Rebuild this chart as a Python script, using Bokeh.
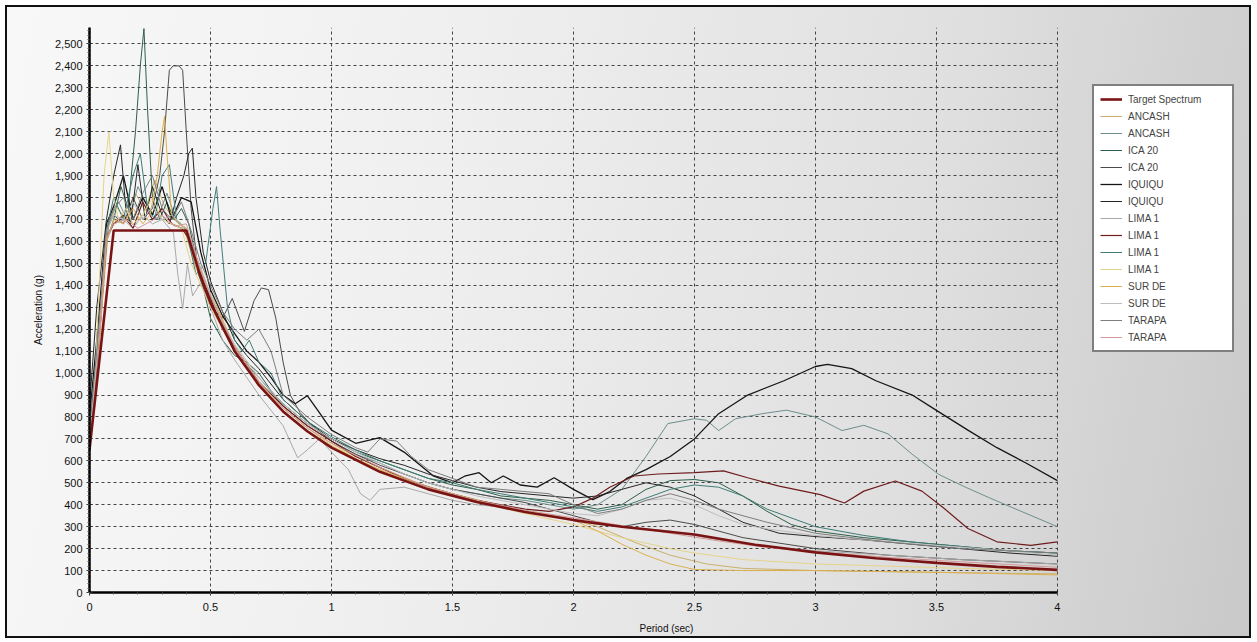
from bokeh.plotting import figure
from bokeh.models import (Range1d, NumeralTickFormatter, Legend, LegendItem,
                          SingleIntervalTicker)
from bokeh.embed import file_html
from bokeh.resources import INLINE

# ---------------- data ----------------
series_names = ["ANCASH", "ANCASH", "ICA 20", "ICA 20", "IQUIQU", "IQUIQU",
                "LIMA 1", "LIMA 1", "LIMA 1", "LIMA 1", "SUR DE", "SUR DE",
                "TARAPA", "TARAPA"]

T_target = [0, 0.1, 0.4, 0.45, 0.5, 0.6, 0.7, 0.8, 0.9, 1.0, 1.2, 1.4, 1.6, 1.8, 2.0,
            2.2, 2.5, 2.75, 3.0, 3.25, 3.5, 3.75, 4.0]
A_target = [650, 1650, 1650, 1470, 1320, 1100, 945, 825, 735, 660, 550, 470, 412, 367, 330,
            300, 264, 218, 183, 156, 135, 117, 103]

T_ancash_a = [0, 0.04, 0.08, 0.11, 0.15, 0.19, 0.23, 0.27, 0.31, 0.35, 0.39, 0.44, 0.5, 0.56,
              0.62, 0.7, 0.8, 0.9, 1.0, 1.1, 1.2, 1.35, 1.5, 1.65, 1.8, 1.95, 2.1, 2.25, 2.4,
              2.55, 2.7, 3.0, 3.3, 3.6, 4.0]
A_ancash_a = [720, 1150, 1680, 1760, 1700, 1820, 1740, 1880, 1760, 1700, 1660, 1480, 1330, 1200,
              1070, 960, 840, 750, 680, 620, 570, 500, 450, 410, 370, 345, 300, 230, 170,
              130, 110, 100, 95, 90, 85]

T_ancash_b = [0, 0.04, 0.08, 0.12, 0.16, 0.2, 0.24, 0.28, 0.32, 0.36, 0.4, 0.45, 0.5, 0.55, 0.6,
              0.65, 0.7, 0.8, 0.9, 1.0, 1.1, 1.2, 1.3, 1.4, 1.5, 1.6, 1.7, 1.8, 1.9, 2.0, 2.1,
              2.2, 2.3, 2.39, 2.5, 2.55, 2.6, 2.67, 2.78, 2.88, 3.0, 3.11, 3.2, 3.3, 3.4, 3.51,
              3.62, 3.72, 3.85, 4.0]
A_ancash_b = [680, 1200, 1700, 1780, 1690, 1850, 1760, 1700, 1820, 1690, 1660, 1500, 1350, 1230,
              1120, 1040, 980, 850, 760, 690, 630, 590, 540, 500, 470, 450, 430, 420, 400, 380,
              400, 470, 620, 770, 792, 785, 738, 792, 815, 831, 800, 738, 762, 723, 630, 538,
              480, 431, 370, 300]

T_ica_a = [0, 0.03, 0.07, 0.1, 0.13, 0.16, 0.19, 0.21, 0.225, 0.24, 0.26, 0.29, 0.32, 0.35,
           0.38, 0.41, 0.45, 0.5, 0.55, 0.6, 0.65, 0.7, 0.75, 0.8, 0.9, 1.0, 1.1, 1.2, 1.3, 1.4,
           1.5, 1.6, 1.7, 1.8, 1.9, 2.0, 2.1, 2.2, 2.3, 2.4, 2.5, 2.6, 2.7, 2.8, 2.9, 3.0, 3.2,
           3.4, 3.6, 3.8, 4.0]
A_ica_a = [700, 1000, 1600, 1700, 1850, 1750, 2100, 2400, 2570, 2200, 1800, 1700, 1780, 1700,
           1750, 1680, 1480, 1250, 1150, 1080, 1050, 1000, 920, 860, 770, 700, 640, 600, 560, 520,
           490, 470, 440, 430, 420, 400, 380, 400, 470, 510, 515, 500, 440, 370, 310, 280, 250,
           230, 210, 190, 180]

T_ica_b = [0, 0.03, 0.07, 0.1, 0.14, 0.18, 0.22, 0.26, 0.29, 0.31, 0.33, 0.345, 0.37, 0.385,
           0.4, 0.42, 0.45, 0.5, 0.55, 0.59, 0.64, 0.68, 0.71, 0.74, 0.77, 0.8, 0.83, 0.87, 0.92,
           1.0, 1.1, 1.2, 1.3, 1.4, 1.5, 1.6, 1.7, 1.8, 1.9, 2.0, 2.1, 2.2, 2.3, 2.4, 2.5, 2.7,
           3.0, 3.3, 3.6, 4.0]
A_ica_b = [750, 1100, 1650, 1720, 1680, 1800, 1700, 1750, 1900, 2100, 2380, 2400, 2400, 2380,
           2100, 1750, 1450, 1300, 1250, 1340, 1190, 1330, 1388, 1380, 1250, 1050, 900, 820, 760,
           690, 630, 580, 540, 500, 470, 450, 430, 410, 380, 350, 320, 300, 320, 330, 310, 250,
           200, 170, 150, 130]

T_iquiqu_a = [0, 0.03, 0.07, 0.1, 0.14, 0.18, 0.22, 0.26, 0.3, 0.34, 0.38, 0.42, 0.46, 0.5,
              0.55, 0.6, 0.65, 0.7, 0.75, 0.8, 0.85, 0.9, 0.95, 1.0, 1.1, 1.2, 1.3, 1.42, 1.5,
              1.55, 1.61, 1.66, 1.71, 1.78, 1.85, 1.92, 2.0, 2.08, 2.15, 2.22, 2.3, 2.4, 2.5,
              2.6, 2.72, 2.87, 3.0, 3.05, 3.15, 3.25, 3.4, 3.5, 3.63, 3.75, 3.87, 4.0]
A_iquiqu_a = [800, 1150, 1680, 1760, 1900, 1700, 1800, 1720, 1850, 1700, 1800, 1780, 1550, 1380,
              1260, 1180, 1100, 1050, 980, 900, 860, 897, 820, 740, 680, 706, 640, 532, 500,
              530, 546, 500, 531, 490, 480, 523, 470, 423, 460, 520, 560, 620, 700,
              815, 900, 965, 1030, 1040, 1020, 965, 900, 830, 740, 660, 590, 510]

T_iquiqu_b = [0, 0.03, 0.07, 0.1, 0.128, 0.15, 0.17, 0.2, 0.23, 0.26, 0.3, 0.33, 0.36, 0.39,
              0.41, 0.425, 0.44, 0.47, 0.5, 0.55, 0.6, 0.65, 0.7, 0.8, 0.9, 1.0, 1.1, 1.2, 1.3,
              1.4, 1.5, 1.6, 1.7, 1.8, 1.9, 2.0, 2.1, 2.2, 2.3, 2.4, 2.5, 2.6, 2.7, 2.85, 3.0,
              3.2, 3.4, 3.6, 3.8, 4.0]
A_iquiqu_b = [850, 1300, 1700, 1900, 2040, 1750, 1680, 1950, 1700, 1850, 1720, 1680, 1800, 1900,
              2000, 2025, 1800, 1550, 1420, 1280, 1150, 1080, 1020, 880, 780, 700, 650, 610, 580,
              540, 510, 480, 460, 450, 440, 430, 440, 470, 500, 480, 440, 380, 320, 270, 255,
              240, 220, 200, 180, 165]

T_lima_a = [0, 0.03, 0.07, 0.1, 0.14, 0.18, 0.22, 0.26, 0.3, 0.347, 0.365, 0.385, 0.405, 0.426,
            0.459, 0.5, 0.55, 0.6, 0.65, 0.7, 0.75, 0.8, 0.86, 0.9, 0.95, 1.0, 1.07, 1.12, 1.16,
            1.2, 1.3, 1.4, 1.5, 1.6, 1.7, 1.8, 1.9, 2.0, 2.1, 2.2, 2.3, 2.4, 2.5, 2.6, 2.8, 3.0,
            3.3, 3.6, 4.0]
A_lima_a = [680, 1050, 1600, 1680, 1700, 1660, 1720, 1680, 1700, 1639, 1450, 1293, 1497, 1352,
            1411, 1300, 1150, 1060, 980, 900, 830, 760, 614, 650, 700, 640, 560, 450, 420,
            470, 480, 450, 420, 400, 390, 370, 350, 330, 310, 300, 290, 280, 260, 240, 210, 190,
            170, 150, 130]

T_lima_b = [0, 0.03, 0.07, 0.1, 0.14, 0.18, 0.22, 0.26, 0.3, 0.34, 0.38, 0.42, 0.46, 0.5, 0.55,
            0.6, 0.7, 0.8, 0.9, 1.0, 1.1, 1.2, 1.3, 1.4, 1.5, 1.6, 1.7, 1.8, 1.9, 2.0, 2.08, 2.15,
            2.25, 2.35, 2.5, 2.62, 2.72, 2.85, 3.02, 3.12, 3.2, 3.33, 3.44, 3.53, 3.63, 3.75,
            3.89, 4.0]
A_lima_b = [660, 1000, 1620, 1680, 1720, 1660, 1780, 1700, 1750, 1680, 1660, 1600, 1450, 1340,
            1200, 1120, 960, 850, 760, 690, 620, 570, 520, 480, 450, 420, 400, 380, 370, 390,
            430, 480, 531, 540, 546, 554, 523, 485, 446, 408, 462, 508, 462, 385, 292, 231,
            215, 231]

T_lima_c = [0, 0.03, 0.07, 0.1, 0.14, 0.18, 0.21, 0.24, 0.27, 0.3, 0.33, 0.36, 0.4, 0.44, 0.48,
            0.51, 0.525, 0.54, 0.57, 0.6, 0.63, 0.66, 0.7, 0.75, 0.8, 0.9, 1.0, 1.1, 1.2, 1.3,
            1.4, 1.5, 1.6, 1.7, 1.8, 1.9, 2.0, 2.1, 2.2, 2.3, 2.4, 2.5, 2.6, 2.7, 2.8, 3.0, 3.2,
            3.4, 3.6, 3.8, 4.0]
A_lima_c = [700, 1050, 1650, 1800, 1700, 1900, 2000, 1750, 1700, 1900, 1950, 1700, 1650, 1450,
            1500, 1750, 1850, 1650, 1300, 1150, 1100, 1150, 1050, 1000, 880, 780, 710, 650, 600,
            560, 520, 500, 470, 450, 430, 410, 390, 370, 390, 430, 470, 490, 480, 440, 380, 300,
            260, 230, 210, 190, 180]

T_lima_d = [0, 0.02, 0.04, 0.06, 0.08, 0.1, 0.12, 0.15, 0.18, 0.22, 0.26, 0.3, 0.34, 0.38, 0.42,
            0.46, 0.5, 0.55, 0.6, 0.7, 0.8, 0.9, 1.0, 1.1, 1.2, 1.35, 1.5, 1.65, 1.8, 2.0, 2.2,
            2.4, 2.5, 2.7, 3.0, 3.3, 3.6, 4.0]
A_lima_d = [720, 900, 1400, 1900, 2100, 1800, 1700, 1750, 1680, 1720, 1800, 1700, 1680, 1660,
            1500, 1400, 1300, 1200, 1100, 950, 840, 750, 680, 610, 560, 490, 440, 400, 360, 310,
            250, 200, 180, 150, 130, 120, 110, 100]

T_surde_a = [0, 0.03, 0.07, 0.1, 0.14, 0.18, 0.22, 0.25, 0.28, 0.3, 0.31, 0.32, 0.34, 0.37, 0.4,
             0.44, 0.48, 0.52, 0.56, 0.6, 0.7, 0.8, 0.9, 1.0, 1.1, 1.2, 1.3, 1.4, 1.5, 1.6, 1.7,
             1.8, 1.9, 2.0, 2.1, 2.2, 2.3, 2.4, 2.5, 2.7, 3.0, 3.3, 3.6, 4.0]
A_surde_a = [640, 950, 1600, 1700, 1680, 1750, 1680, 1720, 1900, 2100, 2170, 2000, 1720, 1680,
             1660, 1520, 1400, 1320, 1220, 1120, 960, 840, 750, 670, 610, 560, 520, 480, 450,
             420, 390, 370, 350, 330, 280, 220, 170, 130, 105, 100, 100, 95, 90, 80]

T_surde_b = [0, 0.03, 0.07, 0.1, 0.14, 0.18, 0.22, 0.26, 0.3, 0.34, 0.38, 0.42, 0.46, 0.5, 0.55,
             0.6, 0.7, 0.8, 0.9, 1.0, 1.1, 1.2, 1.3, 1.4, 1.5, 1.6, 1.7, 1.8, 1.9, 2.0, 2.1, 2.2,
             2.3, 2.4, 2.5, 2.6, 2.7, 2.8, 3.0, 3.2, 3.5, 3.8, 4.0]
A_surde_b = [690, 1050, 1650, 1720, 1700, 1780, 1700, 1760, 1700, 1720, 1680, 1600, 1480, 1360,
             1230, 1130, 980, 860, 770, 700, 640, 590, 540, 500, 470, 440, 420, 400, 380, 360,
             350, 380, 420, 430, 400, 350, 310, 290, 260, 240, 215, 190, 170]

T_tarapa_a = [0, 0.03, 0.07, 0.1, 0.14, 0.18, 0.22, 0.26, 0.3, 0.34, 0.38, 0.42, 0.46, 0.5, 0.55,
              0.6, 0.65, 0.7, 0.75, 0.8, 0.85, 0.9, 1.0, 1.1, 1.15, 1.2, 1.27, 1.33, 1.4, 1.5,
              1.6, 1.7, 1.8, 1.9, 2.0, 2.1, 2.2, 2.3, 2.4, 2.5, 2.6, 2.8, 3.0, 3.3, 3.6, 4.0]
A_tarapa_a = [760, 1100, 1650, 1750, 1800, 1700, 1820, 1900, 1750, 1700, 1780, 1650, 1500, 1400,
              1280, 1200, 1150, 1200, 1100, 900, 850, 800, 720, 660, 640, 700, 690, 620, 560,
              520, 480, 470, 460, 450, 400, 360, 380, 420, 450, 420, 380, 320, 270, 230, 200, 180]

T_tarapa_b = [0, 0.03, 0.07, 0.1, 0.15, 0.2, 0.25, 0.3, 0.35, 0.4, 0.45, 0.5, 0.6, 0.7, 0.8, 0.9,
              1.0, 1.2, 1.4, 1.6, 1.8, 2.0, 2.2, 2.4, 2.6, 2.8, 3.0, 3.3, 3.6, 4.0]
A_tarapa_b = [660, 980, 1620, 1680, 1700, 1660, 1690, 1720, 1670, 1680, 1500, 1350, 1120, 960,
              840, 750, 680, 570, 480, 420, 375, 340, 305, 270, 235, 205, 185, 160, 140, 115]

series_T = [T_ancash_a, T_ancash_b, T_ica_a, T_ica_b, T_iquiqu_a, T_iquiqu_b, T_lima_a,
            T_lima_b, T_lima_c, T_lima_d, T_surde_a, T_surde_b, T_tarapa_a, T_tarapa_b]
series_A = [A_ancash_a, A_ancash_b, A_ica_a, A_ica_b, A_iquiqu_a, A_iquiqu_b, A_lima_a,
            A_lima_b, A_lima_c, A_lima_d, A_surde_a, A_surde_b, A_tarapa_a, A_tarapa_b]

# ---------------- styles ----------------
series_colors = ["#c9b06a", "#6c8f8c", "#2f5f48", "#4a4a4a", "#151515", "#262626", "#a8a8a8",
                 "#6e1c1c", "#3f7d76", "#e6d38a", "#dcb050", "#bdbdbd", "#7d7d7d", "#d49a9a"]
series_widths = [1, 1, 1, 1, 1.3, 1, 1, 1.2, 1, 1, 1, 1, 1, 1]
FONT = "Liberation Sans"

X_MAX = 4.0
Y_MAX = 2575

# the frame spans the legend area too; axis and grid are bounded to 0..4
p = figure(width=1246, height=633, output_backend="svg", toolbar_location=None,
           x_range=Range1d(0, 4.769), y_range=Range1d(0, Y_MAX),
           min_border_left=82, min_border_right=10, min_border_top=20, min_border_bottom=48,
           x_axis_label="Period (sec)", y_axis_label="Acceleration (g)")

p.background_fill_color = None
p.border_fill_color = None
p.outline_line_color = None
p.styles = {"background": "linear-gradient(100deg, #f8f8f8 0%, #efefef 35%, #e0e0e0 70%, #c9c9c9 100%)",
            "border": "2px solid #111", "margin-left": "5px", "margin-top": "5px"}

items = []
for name, T, A, c, w in zip(series_names, series_T, series_A, series_colors, series_widths):
    r = p.line(T, A, line_color=c, line_width=w)
    items.append(LegendItem(label=name, renderers=[r]))

r_t = p.line(T_target, A_target, line_color="#7a1414", line_width=2.6)
items.insert(0, LegendItem(label="Target Spectrum", renderers=[r_t]))

# axes
p.xaxis.ticker = SingleIntervalTicker(interval=0.5, num_minor_ticks=5)
p.yaxis.ticker = SingleIntervalTicker(interval=100, num_minor_ticks=5)
p.xaxis.formatter = NumeralTickFormatter(format="0.[0]")
p.yaxis.formatter = NumeralTickFormatter(format="0,0")
p.xaxis.bounds = (0, X_MAX)
for ax in (p.xaxis[0], p.yaxis[0]):
    ax.axis_line_width = 2.5
    ax.axis_line_color = "#000000"
    ax.major_tick_in = 3
    ax.major_tick_out = 3
    ax.minor_tick_in = 0
    ax.minor_tick_out = 2
    ax.major_tick_line_color = "#222222"
    ax.minor_tick_line_color = "#555555"
    ax.major_label_text_font = FONT
    ax.major_label_text_font_size = "11px"
    ax.major_label_text_color = "#111111"
    ax.axis_label_text_font = FONT
    ax.axis_label_text_font_size = "10px"
    ax.axis_label_text_font_style = "normal"
    ax.axis_label_text_color = "#111111"
p.xaxis.major_label_standoff = 7
p.yaxis.major_label_standoff = 4
p.xaxis.axis_label_standoff = 9
p.yaxis.axis_label_standoff = 8

for g in (p.xgrid[0], p.ygrid[0]):
    g.grid_line_color = "#444444"
    g.grid_line_dash = "3 3"
    g.grid_line_width = 1
p.xgrid.bounds = (0, X_MAX)
p.xgrid.cross_bounds = (0, Y_MAX)
p.ygrid.bounds = (0, Y_MAX)
p.ygrid.cross_bounds = (0, X_MAX)

legend = Legend(items=items, location=(1003, 240), margin=0, padding=6, spacing=3,
                label_height=14, glyph_height=14, glyph_width=22, label_standoff=6,
                label_width=98,
                label_text_font=FONT, label_text_font_size="10px",
                border_line_color="#000000", border_line_width=2,
                background_fill_color="#ffffff", background_fill_alpha=1.0)
p.add_layout(legend, "center")

open("out.html", "w").write(file_html(p, INLINE))
